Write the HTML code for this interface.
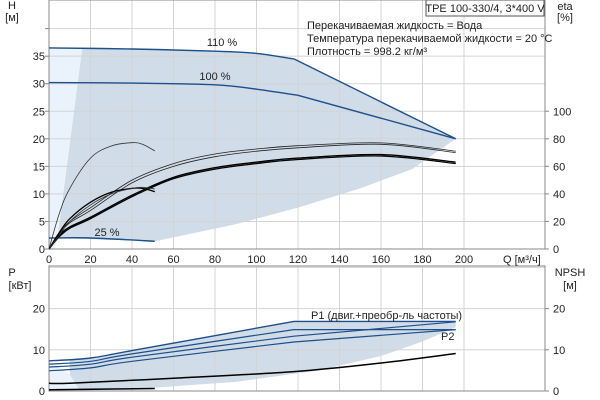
<!DOCTYPE html>
<html><head><meta charset="utf-8"><style>
body{margin:0;background:#fff;width:600px;height:400px;overflow:hidden}
svg{display:block;font-family:"Liberation Sans",sans-serif;font-size:11px}
</style></head><body>
<svg id="c" width="600" height="400"></svg>
<script>
const qTicks=[0,20,40,60,80,100,120,140,160,180,200];
const hTicks=[0,5,10,15,20,25,30,35];
const etaTicks=[0,20,40,60,80,100];
const pTicks=[0,10,20];
const q110=[0,40,80,100,118,196];const h110=[36.5,36.3,35.9,35.5,34.5,20];
const q100=[0,40,80,100,120,196];const h100=[30.2,30.1,29.8,29.0,27.9,20];
const q25=[0,20,51];const h25=[2.0,2.0,1.4];
const qEta=[0,5,10,20,40,60,80,100,120,160,196];
const etaA=[0,12,20,30,50,62,69,72.6,75,77,71];
const etaB=[0,11,19,28,48,60,67,71,73.5,76,70];
const etaC=[0,10,16,23,39,52,59,63,66,68.5,63];
const etaD=[0,9,15,22,38,51,58,62,65,67.5,62];
const qSmall=[0,5,10,20,30,40,45,51];
const hSmallA=[0,6.5,11,16.5,18.7,19.3,19,17.8];
const hSmallB=[0,3,5.5,8.5,10.3,11,11,10.4];
const hSmallC=[0,2.5,5,8,10,11,11.2,10.9];
const qP=[0,20,40,118,196];
const p1a=[7.3,8,9.8,16.9,16.9];
const p1b=[6.5,7.2,9,14.9,14.9];
const p2a=[5.8,6.5,8.2,13.3,16.8];
const p2b=[4.9,5.6,7.2,11.9,14.9];
const qN=[0,10,60,118,160,196];const npsh=[1.9,1.9,3.1,4.7,6.8,9.1];
const qN2=[0,51];const npsh2=[0.3,0.6];

const X=q=>49+q*2.075, YH=h=>249-h*5.51, YE=e=>249-e*1.3775, YP=p=>391-p*4.12;
const S=document.getElementById('c'),NS='http://www.w3.org/2000/svg';
function el(t,a,txt){const e=document.createElementNS(NS,t);for(const k in a)e.setAttribute(k,a[k]);if(txt!=null)e.textContent=txt;S.appendChild(e);return e;}
function pts(qs,vs,fy){return qs.map((q,i)=>X(q).toFixed(1)+','+fy(vs[i]).toFixed(1)).join(' ');}
function smooth(qs,vs,fy,k){const A=qs.map((q,i)=>[X(q),fy(vs[i])]);if(k==null)k=A.length-1;const P=A.slice(0,k+1);
let d='M'+P[0][0].toFixed(1)+','+P[0][1].toFixed(1);
for(let i=0;i<P.length-1;i++){const p0=P[i-1]||P[i],p1=P[i],p2=P[i+1],p3=P[i+2]||P[i+1];
const c1=[p1[0]+(p2[0]-p0[0])/6,p1[1]+(p2[1]-p0[1])/6],c2=[p2[0]-(p3[0]-p1[0])/6,p2[1]-(p3[1]-p1[1])/6];
d+=` C${c1[0].toFixed(1)},${c1[1].toFixed(1)} ${c2[0].toFixed(1)},${c2[1].toFixed(1)} ${p2[0].toFixed(1)},${p2[1].toFixed(1)}`;}
for(let i=k+1;i<A.length;i++)d+=` L${A[i][0].toFixed(1)},${A[i][1].toFixed(1)}`;return d;}

let e=el('polygon',{points:`49,${YH(36.5)} ${X(16)},${YH(36.3)} ${X(3)},${YH(0)} 49,249`,fill:'#eaf2fb'});

e=el('polygon',{points:`${X(16)},${YH(36.3)} ${pts(q110.slice(1),h110.slice(1),YH)} ${X(175)},${YH(14.5)} ${X(150)},${YH(11)} ${X(120)},${YH(7.5)} ${X(90)},${YH(4.5)} ${X(51)},${YH(1.4)} ${X(4)},${YH(2)}`,fill:'#d0dce8'});

e=el('polygon',{points:`49,${YP(7.3)} 49,391 ${X(15)},391 ${X(10)},${YP(4)}`,fill:'#eaf2fb'});

e=el('polygon',{points:`${X(10)},${YP(7.6)} ${pts(qP.slice(1),p1a.slice(1),YP)} ${X(196)},${YP(15.5)} ${X(180)},${YP(12)} ${X(160)},${YP(8.5)} ${X(130)},${YP(5)} ${X(90)},${YP(2.2)} ${X(50)},${YP(0.8)} ${X(15)},${YP(0)} ${X(10)},${YP(4)}`,fill:'#d0dce8'});


qTicks.forEach(q=>{if(q>0){el('line',{x1:X(q),x2:X(q),y1:0,y2:249,stroke:'#d4d4d4'});el('line',{x1:X(q),x2:X(q),y1:266,y2:391,stroke:'#d4d4d4'});}});
[5,10,15,20,25,30,35,40].forEach(h=>el('line',{x1:49,x2:545,y1:YH(h),y2:YH(h),stroke:'#d4d4d4'}));
[10,20,30].forEach(p=>el('line',{x1:49,x2:545,y1:YP(p),y2:YP(p),stroke:'#d4d4d4'}));
el('rect',{x:49,y:0,width:496,height:249,fill:'none',stroke:'#888'});
el('rect',{x:49,y:266,width:496,height:125,fill:'none',stroke:'#888'});

function line(qs,vs,fy,c,w,name,k){const p=el('path',{d:smooth(qs,vs,fy,k),fill:'none',stroke:c,'stroke-width':w,'stroke-linejoin':'round'});
}
const B='#1d4f8a';
line(q110,h110,YH,B,1.4,'curve-110',4);line(q100,h100,YH,B,1.4,'curve-100',4);line(q25,h25,YH,B,1.4,'curve-25');
line(qEta,etaA,YE,'#222',0.8,'eta-curve-a');line(qEta,etaB,YE,'#222',0.8,'eta-curve-b');
line(qEta,etaC,YE,'#000',1.4,'eta-curve-c');line(qEta,etaD,YE,'#000',1.2,'eta-curve-d');
line(qSmall,hSmallA,YH,'#333',0.8,'small-curve-a');line(qSmall,hSmallB,YH,'#000',1.3,'small-curve-b');line(qSmall,hSmallC,YH,'#333',0.8,'small-curve-c');
line(qP,p1a,YP,B,1.4,'p1-max',3);line(qP,p1b,YP,B,1.2,'p2-max',3);line(qP,p2a,YP,B,1.2,'p1-curve',3);line(qP,p2b,YP,B,1.2,'p2-curve',3);
line(qN,npsh,YP,'#000',1.5,'npsh-curve');line(qN2,npsh2,YP,'#000',1.5,'npsh-low');

function t(x,y,s,a,name){const e=el('text',{x:x,y:y,'text-anchor':a||'start',fill:'#222'},s);}
qTicks.forEach(q=>t(X(q),263,q,'middle','x-tick-label'));
hTicks.forEach(h=>{t(45,YH(h)+4,h,'end','h-tick-label');el('line',{x1:45,x2:49,y1:YH(h),y2:YH(h),stroke:'#888'});});
el('line',{x1:45,x2:49,y1:YH(40),y2:YH(40),stroke:'#888'});
etaTicks.forEach(v=>{t(553,YE(v)+4,v,'start','eta-tick-label');el('line',{x1:545,x2:549,y1:YE(v),y2:YE(v),stroke:'#888'});});
pTicks.forEach(p=>{t(45,YP(p)+4,p,'end','p-tick-label');t(553,YP(p)+4,p,'start','npsh-tick-label');el('line',{x1:545,x2:549,y1:YP(p),y2:YP(p),stroke:'#888'});});
t(12,9,'H','middle','y-axis-title');t(12,21,'[м]','middle','y-axis-unit');
t(565,10,'eta','middle','eta-axis-title');t(565,21,'[%]','middle','eta-axis-unit');
t(503,263,'Q [м³/ч]','start','x-axis-title');
t(12,276,'P','middle','p-axis-title');t(20,289,'[кВт]','middle','p-axis-unit');
t(570,276,'NPSH','middle','npsh-axis-title');t(570,289,'[м]','middle','npsh-axis-unit');
t(222,46,'110 %','middle','label-110');t(215,80,'100 %','middle','label-100');t(107,236,'25 %','middle','label-25');
t(311,319,'P1 (двиг.+преобр-ль частоты)','start','label-p1');t(441,340,'P2','start','label-p2');
el('rect',{x:426,y:0,width:118,height:16,fill:'#fff',stroke:'#555'});
t(485,12,'TPE 100-330/4, 3*400 V','middle','pump-title');
t(307,29,'Перекачиваемая жидкость = Вода','start','info-fluid');
t(307,42,'Температура перекачиваемой жидкости = 20 °C','start','info-temp');
t(307,55,'Плотность = 998.2 кг/м³','start','info-density');
</script></body></html>
